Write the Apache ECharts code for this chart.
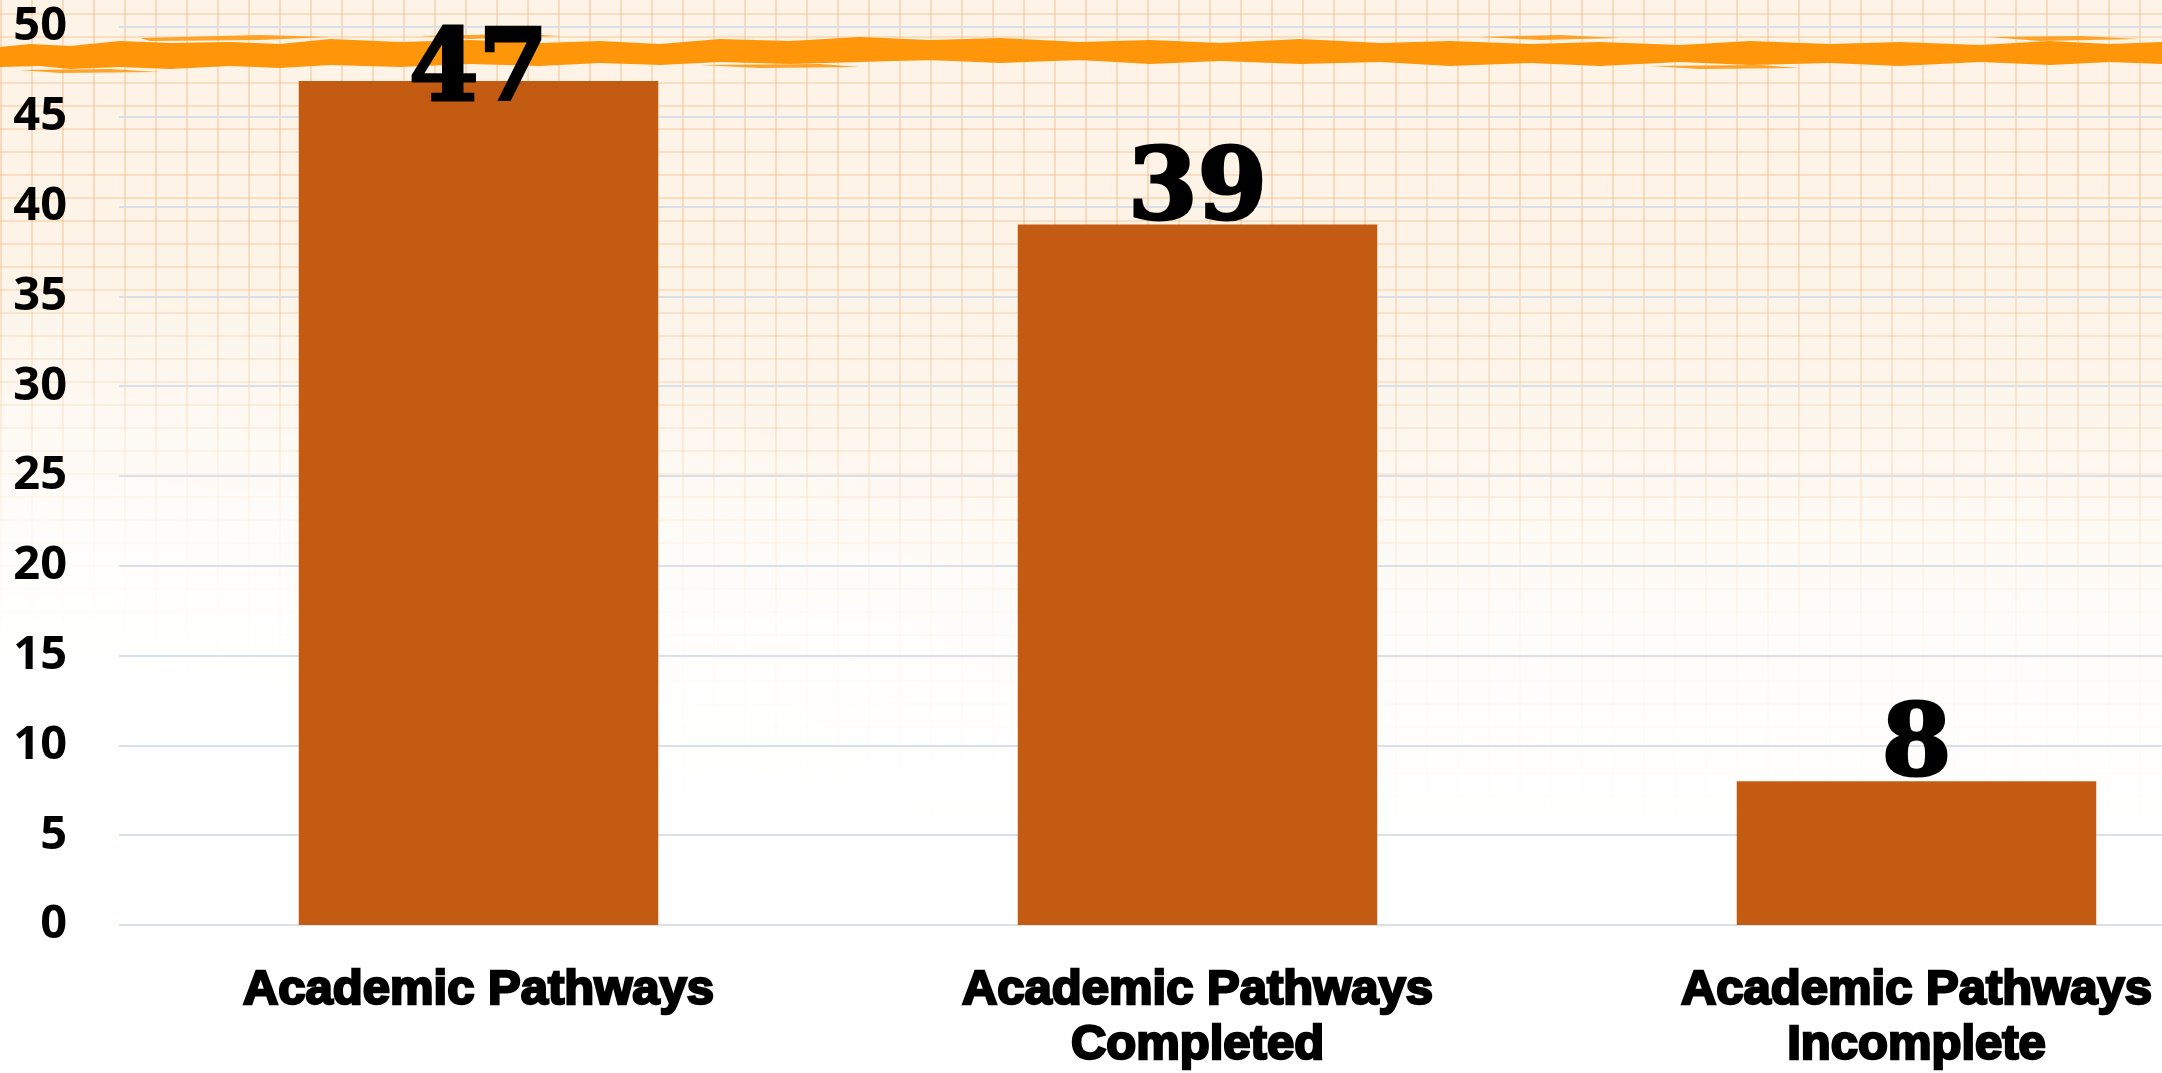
<!DOCTYPE html>
<html>
<head>
<meta charset="utf-8">
<script src="https://cdn.jsdelivr.net/npm/echarts@6/dist/echarts.min.js"></script>
<style>
  html, body { margin: 0; padding: 0; width: 2162px; height: 1073px; overflow: hidden; }
  body {
    background:
      radial-gradient(ellipse 1400px 800px at 0px 1073px, rgba(255,255,255,1) 0%, rgba(255,255,255,0.92) 50%, rgba(255,255,255,0) 100%),
      linear-gradient(to top, #ffffff 0%, #ffffff 22%, rgba(255,255,255,0.8) 42%, rgba(255,255,255,0.25) 62%, rgba(255,255,255,0) 80%),
      repeating-linear-gradient(90deg, rgba(238,168,100,0.32) 0px, rgba(238,168,100,0.32) 2px, rgba(0,0,0,0) 2px, rgba(0,0,0,0) 31px),
      repeating-linear-gradient(0deg, rgba(238,168,100,0.28) 0px, rgba(238,168,100,0.28) 2px, rgba(0,0,0,0) 2px, rgba(0,0,0,0) 23px),
      #fdf3e6;
  }
  #chart { width: 2162px; height: 1073px; }
</style>
</head>
<body>
<div id="chart"></div>
<script>
const categories = ['Academic Pathways', 'Academic Pathways\nCompleted', 'Academic Pathways\nIncomplete'];
const values = [47, 39, 8];
const yMin = 0;
const yMax = 50;
const yStep = 5;

const chart = echarts.init(document.getElementById('chart'), null, { renderer: 'canvas' });

// decorative orange brush stroke across the top
const brushTopEdge = [[0,47],[30,44],[70,46],[120,41],[170,43],[230,42],[280,44],[330,39],[400,42],[470,40],[540,43],[600,41],[660,44],[720,39],[790,41],[860,37],[930,40],[1000,38],[1080,42],[1150,40],[1220,43],[1300,39],[1380,43],[1450,41],[1530,44],[1600,42],[1680,45],[1750,41],[1830,44],[1900,42],[1980,45],[2050,41],[2110,44],[2162,42]];
const brushBottomEdge = [[2162,64],[2110,62],[2050,65],[1980,62],[1900,66],[1830,63],[1750,65],[1680,62],[1600,66],[1530,63],[1450,66],[1380,62],[1300,64],[1220,61],[1150,64],[1080,60],[1000,63],[930,60],[860,62],[790,64],[720,62],[660,65],[600,63],[540,66],[470,64],[400,67],[330,65],[280,68],[230,66],[170,69],[120,67],[70,69],[40,66],[0,67]];
const brushPoints = brushTopEdge.concat(brushBottomEdge);
const brushWisps = [
  [[140,38],[260,35],[330,37],[260,40],[150,41]],
  [[420,36],[520,34],[560,36],[470,39]],
  [[1480,37],[1560,35],[1620,38],[1540,40]],
  [[1990,37],[2080,36],[2140,39],[2040,41]],
  [[20,70],[110,69],[160,72],[60,73]],
  [[700,65],[820,64],[860,67],[760,68]],
  [[1650,66],[1760,65],[1800,68],[1700,69]]
];

const graphics = [{
  type: 'polygon', z: 1, silent: true,
  shape: { points: brushPoints },
  style: { fill: '#ff9508' }
}].concat(brushWisps.map(p => ({
  type: 'polygon', z: 1, silent: true,
  shape: { points: p },
  style: { fill: '#ff9a14', opacity: 0.9 }
})));

chart.setOption({
  backgroundColor: 'transparent',
  animation: false,
  grid: { left: 119, right: -114, top: 27, bottom: 148, containLabel: false, outerBoundsMode: 'none' },
  xAxis: {
    type: 'category',
    data: categories,
    axisLine: { show: false },
    axisTick: { show: false },
    axisLabel: {
      interval: 0,
      margin: 38,
      color: '#000',
      fontFamily: 'Liberation Sans, Arial, sans-serif',
      fontWeight: 'bold',
      fontSize: 49,
      lineHeight: 55,
      textBorderColor: '#000',
      textBorderWidth: 2.5,
      hideOverlap: false
    }
  },
  yAxis: {
    type: 'value',
    min: yMin,
    max: yMax,
    interval: yStep,
    axisLine: { show: false },
    axisTick: { show: false },
    splitLine: { show: true, lineStyle: { color: '#d9e0ea', width: 2 } },
    axisLabel: {
      margin: 52,
      color: '#000',
      fontFamily: 'Open Sans, sans-serif',
      fontWeight: 'bold',
      fontSize: 47
    }
  },
  graphic: graphics,
  series: [{
    type: 'bar',
    z: 5,
    barWidth: '50%',
    itemStyle: { color: '#c45b12' },
    data: values.map((v, i) => i === 0 ? { value: v, label: { offset: [0, 25] } } : v),
    label: {
      show: true,
      position: 'top',
      distance: -13,
      color: '#000',
      fontFamily: 'DejaVu Serif, serif',
      fontWeight: 'bold',
      fontSize: 100,
      lineHeight: 90,
      textBorderColor: '#000',
      textBorderWidth: 3
    }
  }]
});
</script>
</body>
</html>
